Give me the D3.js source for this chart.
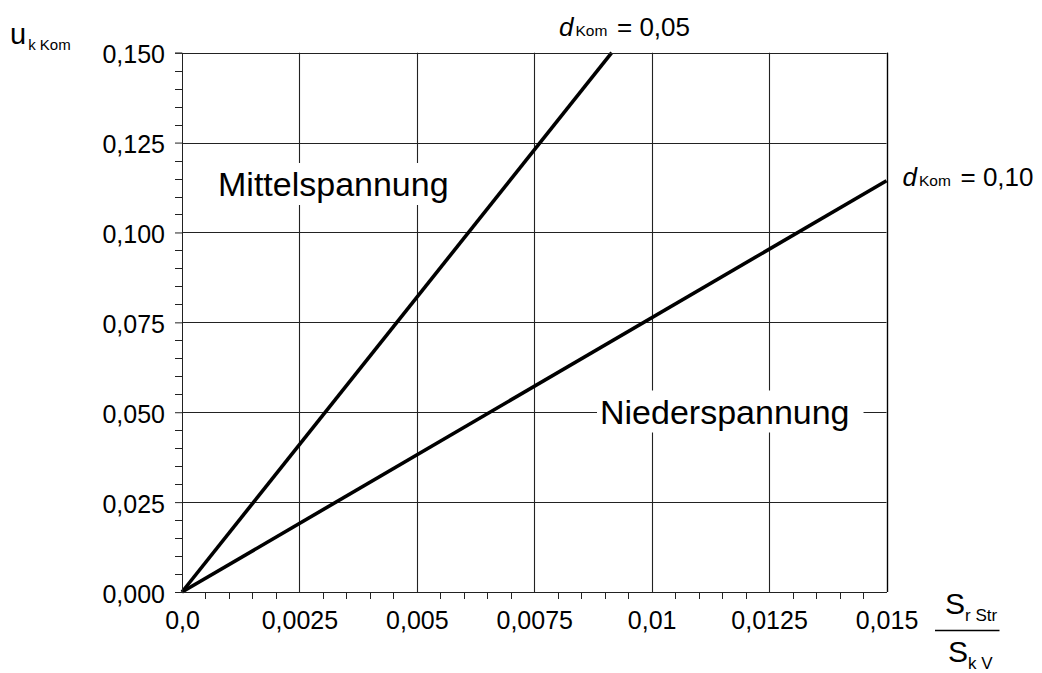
<!DOCTYPE html>
<html><head><meta charset="utf-8">
<script src="https://cdn.jsdelivr.net/npm/d3@7"></script>
<style>body{margin:0;background:#fff}svg{display:block;font-family:"Liberation Sans",Arial,sans-serif}</style>
</head><body><svg id="c" width="1042" height="673"></svg>
<script>
const xMajor = [0, 0.0025, 0.005, 0.0075, 0.01, 0.0125, 0.015];
const xLabels = ["0,0", "0,0025", "0,005", "0,0075", "0,01", "0,0125", "0,015"];
const yMajor = [0, 0.025, 0.05, 0.075, 0.1, 0.125, 0.15];
const yLabels = ["0,000", "0,025", "0,050", "0,075", "0,100", "0,125", "0,150"];
const xMinor = [0.0005,0.001,0.0015,0.002,0.003,0.0035,0.004,0.0045,0.0055,0.006,0.0065,0.007,0.008,0.0085,0.009,0.0095,0.0105,0.011,0.0115,0.012,0.013,0.0135,0.014,0.0145];
const yMinor = [0.005,0.01,0.015,0.02,0.03,0.035,0.04,0.045,0.055,0.06,0.065,0.07,0.08,0.085,0.09,0.095,0.105,0.11,0.115,0.12,0.13,0.135,0.14,0.145];
const mittelX = [0, 0.00915];
const mittelY = [0, 0.15];
const niederX = [0, 0.015];
const niederY = [0, 0.1144];

const svg = d3.select("#c");
const x = d3.scaleLinear().domain([0, 0.015]).range([182, 886.5]);
const y = d3.scaleLinear().domain([0, 0.15]).range([592, 52.7]);
const gridCol = "#222";

// grid
const g = svg.append("g");
g.selectAll(".vg").data(xMajor.slice(1)).join("line")
  .attr("x1", d => Math.round(x(d)) + 0.5).attr("x2", d => Math.round(x(d)) + 0.5)
  .attr("y1", y(0)).attr("y2", y(0.15)).attr("stroke", gridCol).attr("stroke-width", 1.1);
g.selectAll(".hg").data(yMajor.slice(1)).join("line")
  .attr("x1", x(0)).attr("x2", x(0.015))
  .attr("y1", d => Math.round(y(d)) + 0.5).attr("y2", d => Math.round(y(d)) + 0.5)
  .attr("stroke", gridCol).attr("stroke-width", 1.1);

// label backgrounds and labels
function bgLabel(txt, xv, yb, pad) {
  const t = svg.append("text").attr("x", xv).attr("y", yb).attr("font-size", 34).attr("fill", "#000").text(txt);
  const b = t.node().getBBox();
  svg.insert("rect", () => t.node()).attr("x", b.x - pad[0]).attr("y", b.y - pad[1])
    .attr("width", b.width + pad[0] + pad[2]).attr("height", b.height + pad[1] + pad[3]).attr("fill", "#fff");
}
bgLabel("Mittelspannung", 218, 196, [4, 2, 4, 2]);
bgLabel("Niederspannung", 600, 423.5, [3, 2, 14, 2]);

// lines
const line = d3.line().x(d => x(d[0])).y(d => y(d[1]));
svg.append("path").datum(d3.zip(mittelX, mittelY)).attr("d", line)
  .attr("fill", "none").attr("stroke", "#000").attr("stroke-width", 3.6);
svg.append("path").datum(d3.zip(niederX, niederY)).attr("d", line)
  .attr("fill", "none").attr("stroke", "#000").attr("stroke-width", 3.6);

// axes
const yAxis = d3.axisLeft(y).tickValues(yMajor).tickSize(7).tickPadding(10)
  .tickFormat((d, i) => yLabels[i]);
const ya = svg.append("g").attr("transform", `translate(${x(0)},0)`).call(yAxis);
ya.select(".domain").attr("stroke", gridCol);
ya.selectAll(".tick line").attr("stroke", gridCol);
ya.selectAll("text").attr("font-size", 25).attr("font-family", "Liberation Sans, Arial").attr("fill", "#000").attr("dy", "0.4em");
ya.selectAll(".minor").data(yMinor).join("line").attr("class", "minor")
  .attr("x1", -7).attr("x2", 0).attr("y1", d => Math.round(y(d)) + 0.5).attr("y2", d => Math.round(y(d)) + 0.5)
  .attr("stroke", gridCol);

const xAxis = d3.axisBottom(x).tickValues(xMajor).tickSize(0).tickPadding(19)
  .tickFormat((d, i) => xLabels[i]);
const xa = svg.append("g").attr("transform", `translate(0,${y(0)})`).call(xAxis);
xa.select(".domain").attr("stroke", gridCol);
xa.selectAll("text").attr("font-size", 25).attr("font-family", "Liberation Sans, Arial").attr("fill", "#000");
xa.selectAll(".minor").data(xMinor).join("line").attr("class", "minor")
  .attr("x1", d => Math.round(x(d)) + 0.5).attr("x2", d => Math.round(x(d)) + 0.5).attr("y1", 0).attr("y2", 7)
  .attr("stroke", gridCol);

// right border and top border
svg.append("line").attr("x1", Math.round(x(0.015)) + 0.5).attr("x2", Math.round(x(0.015)) + 0.5)
  .attr("y1", y(0)).attr("y2", y(0.15)).attr("stroke", "#000").attr("stroke-width", 1.3);
svg.append("line").attr("x1", x(0)).attr("x2", x(0.015))
  .attr("y1", Math.round(y(0.15)) + 0.5).attr("y2", Math.round(y(0.15)) + 0.5).attr("stroke", gridCol).attr("stroke-width", 1.2);

// y axis title
const yt = svg.append("text").attr("x", 10).attr("y", 43.5).attr("fill", "#000");
yt.append("tspan").attr("font-size", 29).text("u");
yt.append("tspan").attr("font-size", 15).attr("dx", 2).attr("dy", 6.5).text("k Kom");

// d labels
function dLabel(xv, yb, val) {
  svg.append("text").attr("x", xv).attr("y", yb).attr("font-size", 26).attr("font-style", "italic").attr("fill", "#000").text("d");
  svg.append("text").attr("x", xv + 16.5).attr("y", yb).attr("font-size", 15.5).attr("fill", "#000").text("Kom");
  svg.append("text").attr("x", xv + 58).attr("y", yb).attr("font-size", 26).attr("fill", "#000").text("= " + val);
}
dLabel(559, 35.5, "0,05");
dLabel(902.5, 185.5, "0,10");

// x axis title fraction
const f1 = svg.append("text").attr("x", 945).attr("y", 614).attr("fill", "#000");
f1.append("tspan").attr("font-size", 30).text("S");
f1.append("tspan").attr("font-size", 17).attr("dy", 7).text("r Str");
svg.append("line").attr("x1", 935).attr("x2", 999.5).attr("y1", 630.5).attr("y2", 630.5).attr("stroke", "#000").attr("stroke-width", 1.5);
const f2 = svg.append("text").attr("x", 948).attr("y", 662).attr("fill", "#000");
f2.append("tspan").attr("font-size", 30).text("S");
f2.append("tspan").attr("font-size", 17).attr("dy", 7).text("k V");
</script></body></html>
